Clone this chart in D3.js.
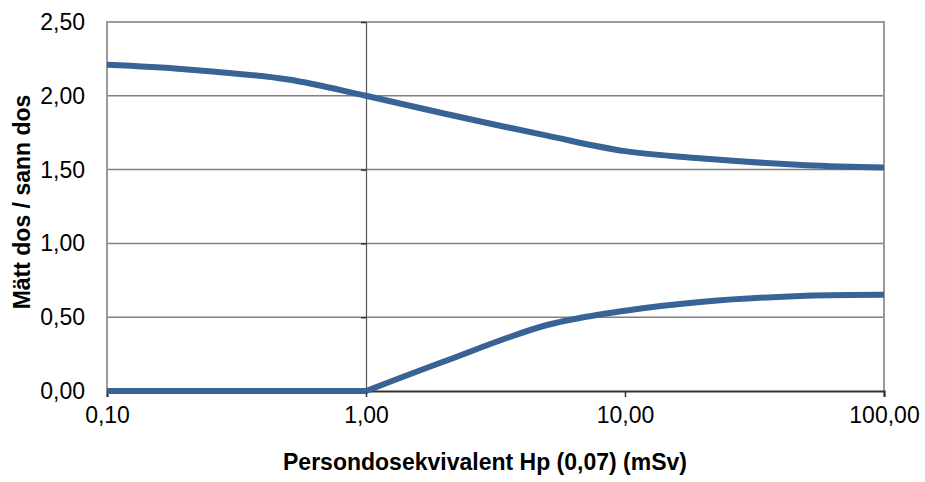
<!DOCTYPE html>
<html>
<head>
<meta charset="utf-8">
<script src="https://cdn.jsdelivr.net/npm/d3@7"></script>
<style>
  body { margin: 0; background: #fff; }
  svg { font-family: "Liberation Sans", Arial, sans-serif; }
</style>
</head>
<body>
<div id="chart"></div>
<script>
const doses = [0.1, 0.2, 0.5, 1, 2, 5, 10, 20, 50, 100];
const upper = [2.21, 2.18, 2.11, 2.00, 1.88, 1.73, 1.625, 1.575, 1.53, 1.515];
const lower = [0, 0, 0, 0, 0.20, 0.447, 0.544, 0.605, 0.645, 0.652];
const xTicks = [0.1, 1, 10, 100];
const yTicks = [0, 0.5, 1, 1.5, 2, 2.5];

const width = 925, height = 482;
const margin = { top: 22, right: 41, bottom: 91, left: 107 };
const iw = width - margin.left - margin.right;
const ih = height - margin.top - margin.bottom;

const fmt = v => d3.format(".2f")(v).replace(".", ",");

const svg = d3.select("#chart").append("svg")
  .attr("width", width)
  .attr("height", height);

const g = svg.append("g").attr("transform", `translate(${margin.left},${margin.top})`);

const x = d3.scaleLog().domain([0.1, 100]).range([0, iw]);
const y = d3.scaleLinear().domain([0, 2.5]).range([ih, 0]);

// horizontal gridlines
g.append("g")
  .selectAll("line")
  .data(yTicks.filter(t => t > 0))
  .enter().append("line")
  .attr("x1", 0).attr("x2", iw)
  .attr("y1", d => y(d)).attr("y2", d => y(d))
  .attr("stroke", "#7f7f7f")
  .attr("stroke-width", 1.5);

// plot frame (left, right, top)
g.append("path")
  .attr("d", `M0,${ih}V0H${iw}V${ih}`)
  .attr("fill", "none")
  .attr("stroke", "#9a9a9a")
  .attr("stroke-width", 2);

// y axis crosses at x = 1
const yAxis = g.append("g")
  .attr("transform", `translate(${x(1)},0)`)
  .call(d3.axisLeft(y).tickValues(yTicks).tickSize(5).tickFormat(""));
yAxis.select(".domain").attr("stroke", "#555").attr("stroke-width", 1.2);
yAxis.selectAll(".tick line").attr("stroke", "#333").attr("stroke-width", 1.5);

// y tick labels at the left edge
g.append("g")
  .selectAll("text")
  .data(yTicks)
  .enter().append("text")
  .attr("x", -22)
  .attr("y", d => y(d))
  .attr("dy", "0.35em")
  .attr("text-anchor", "end")
  .style("font-size", "23px")
  .style("fill", "#000")
  .text(fmt);

// x axis
const xAxis = g.append("g")
  .attr("transform", `translate(0,${ih})`)
  .call(d3.axisBottom(x).tickValues(xTicks).tickSize(6).tickPadding(10).tickFormat(fmt));
xAxis.select(".domain").attr("stroke", "#333").attr("stroke-width", 2);
xAxis.selectAll(".tick line").attr("stroke", "#333").attr("stroke-width", 1.5);
xAxis.selectAll(".tick text")
  .style("font-size", "23px")
  .style("fill", "#000")
  .attr("font-family", "Liberation Sans, Arial, sans-serif");

// lines: flat part and rising part of the lower curve drawn apart,
// so the smoothing keeps the corner at 1 mSv
const line = d3.line()
  .x(d => x(d[0]))
  .y(d => y(d[1]))
  .curve(d3.curveCatmullRom.alpha(0.5));

const upperPts = doses.map((d, i) => [d, upper[i]]);
const lowerPts = doses.map((d, i) => [d, lower[i]]);
const split = doses.indexOf(1);

[upperPts, lowerPts.slice(0, split + 1), lowerPts.slice(split)].forEach(pts => {
  g.append("path")
    .datum(pts)
    .attr("d", line)
    .attr("fill", "none")
    .attr("stroke", "#386396")
    .attr("stroke-width", 6)
    .attr("stroke-linejoin", "round");
});

// axis titles
svg.append("text")
  .attr("x", 485)
  .attr("y", 470)
  .attr("text-anchor", "middle")
  .style("font-size", "23px")
  .style("font-weight", "bold")
  .text("Persondosekvivalent Hp (0,07) (mSv)");

svg.append("text")
  .attr("transform", `translate(30,202) rotate(-90)`)
  .attr("text-anchor", "middle")
  .style("font-size", "23px")
  .style("font-weight", "bold")
  .text("Mätt dos / sann dos");
</script>
</body>
</html>
